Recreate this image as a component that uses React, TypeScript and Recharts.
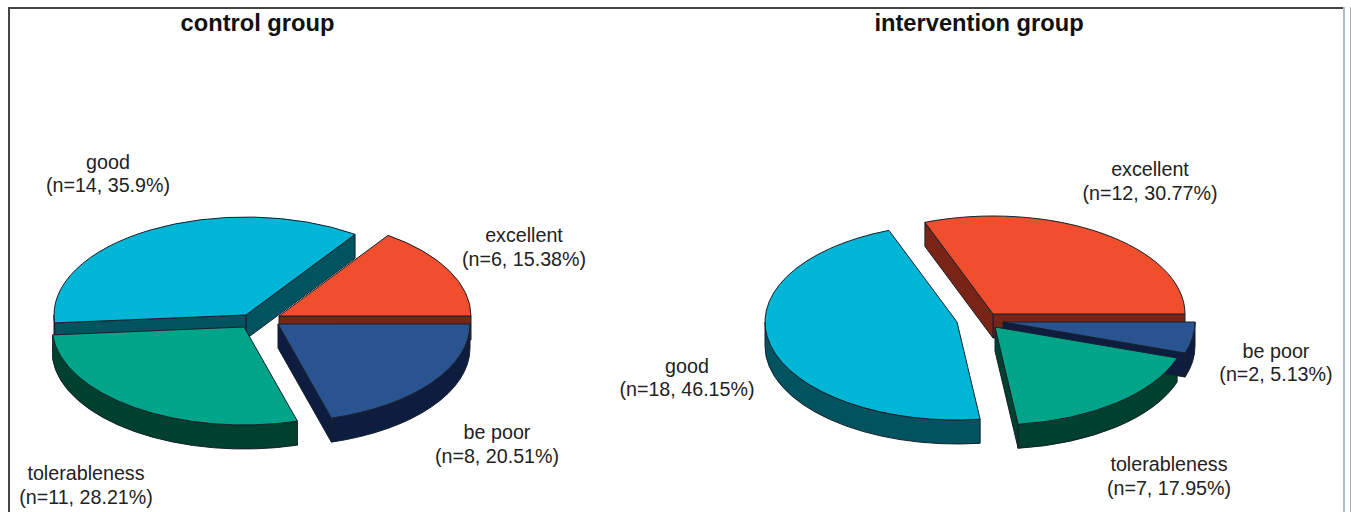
import { Pie, PieChart } from "recharts";

const CATEGORIES = ["excellent", "good", "tolerableness", "be poor"];
const CONTROL_COUNTS = [6, 14, 11, 8];
const INTERVENTION_COUNTS = [12, 18, 7, 2];
const CONTROL_PERCENTS = ["15.38%", "35.9%", "28.21%", "20.51%"];
const INTERVENTION_PERCENTS = ["30.77%", "46.15%", "17.95%", "5.13%"];

const TOP_COLORS = ["#f04e2d", "#00b5d5", "#00a488", "#2a5490"];
const WALL_COLORS = ["#7a2417", "#00535f", "#00402f", "#0e1c40"];
const EDGE = "#17202a";
const FONT = "'Liberation Sans', Arial, sans-serif";

const RADIUS_X = 192;
const RADIUS_Y = 98;
const DEPTH = 24;

// where each slice's apex sits once it has been pulled out of the pie
const CONTROL_APEX = [
  [279, 316],
  [246, 315],
  [244, 327],
  [278, 324],
];
const INTERVENTION_APEX = [
  [993, 314],
  [957, 322],
  [995, 327],
  [1003, 322],
];

// label centre x, then y of the first and second line
const CONTROL_LABELS = [
  [524, 242, 266],
  [108, 169, 192],
  [86, 480, 504],
  [497, 439, 463],
];
const INTERVENTION_LABELS = [
  [1150, 176, 200],
  [687, 373, 396],
  [1169, 471, 495],
  [1276, 358, 381],
];

const toRows = (counts: number[]) =>
  CATEGORIES.map((name, i) => ({ name, value: counts[i], index: i }));

const rad = (deg: number) => (deg * Math.PI) / 180;

// Geometry of one flattened slice. Walls and tops go in separate passes so
// every top face ends up above all the walls of its group.
function sliceShape(apexes: number[][], part: "walls" | "top") {
  return function Slice(props: any) {
    const { startAngle, endAngle, payload } = props;
    const i = payload?.index ?? props.index ?? 0;
    const [ax, ay] = apexes[i];
    const at = (deg: number, drop = 0): [number, number] => [
      ax + RADIUS_X * Math.cos(rad(deg)),
      ay - RADIUS_Y * Math.sin(rad(deg)) + drop,
    ];
    const arc = (to: [number, number], sweep: 0 | 1, large: 0 | 1) =>
      `A${RADIUS_X} ${RADIUS_Y} 0 ${large} ${sweep} ${to[0]} ${to[1]}`;

    const [sx, sy] = at(startAngle);
    const [ex, ey] = at(endAngle);

    if (part === "top") {
      const large = endAngle - startAngle > 180 ? 1 : 0;
      return (
        <path
          d={`M${ax} ${ay}L${sx} ${sy}${arc([ex, ey], 0, large)}Z`}
          fill={TOP_COLORS[i]}
          stroke={EDGE}
          strokeLinejoin="round"
        />
      );
    }

    const radial = (x: number, y: number) =>
      `M${ax} ${ay}L${x} ${y}L${x} ${y + DEPTH}L${ax} ${ay + DEPTH}Z`;

    // a cut face shows only when it turns towards the viewer
    const showStart = Math.cos(rad(startAngle)) > 0;
    const showEnd = Math.cos(rad(endAngle)) < 0;

    // only the part of the rim facing the viewer is visible
    const from = Math.max(startAngle, 180);
    const to = Math.min(endAngle, 360);
    let rim = "";
    if (to > from) {
      const a = at(from);
      const b = at(to);
      const c = at(to, DEPTH);
      const d = at(from, DEPTH);
      rim = `M${a[0]} ${a[1]}${arc(b, 0, 0)}L${c[0]} ${c[1]}${arc(d, 1, 0)}Z`;
    }

    return (
      <g stroke={EDGE} strokeLinejoin="round" fill={WALL_COLORS[i]}>
        {showStart && <path d={radial(sx, sy)} />}
        {showEnd && <path d={radial(ex, ey)} />}
        {rim && <path d={rim} />}
      </g>
    );
  };
}

function sliceLabel(counts: number[], percents: string[], spots: number[][]) {
  return function SliceLabel(props: any) {
    const i = props.index;
    const [x, y1, y2] = spots[i];
    return (
      <g fontFamily={FONT} fontSize={19.7} fill="#222" textAnchor="middle">
        <text x={x} y={y1}>
          {CATEGORIES[i]}
        </text>
        <text x={x} y={y2}>
          {`(n=${counts[i]}, ${percents[i]})`}
        </text>
      </g>
    );
  };
}

function pieProps(counts: number[], cx: number) {
  return {
    data: toRows(counts),
    dataKey: "value",
    cx,
    cy: 320,
    outerRadius: RADIUS_X,
    startAngle: 0,
    endAngle: 360,
    stroke: "none",
    isAnimationActive: false,
  };
}

export default function App() {
  return (
    <div
      style={{
        position: "absolute",
        left: 0,
        top: 0,
        width: 1351,
        height: 512,
        background: "#fff",
        overflow: "hidden",
      }}
    >
      <div style={{ position: "absolute", left: 8, top: 7, width: 1335, height: 2, background: "#444" }} />
      <div style={{ position: "absolute", left: 8, top: 7, width: 2, height: 505, background: "#444" }} />
      <div style={{ position: "absolute", left: 1343, top: 7, width: 2, height: 505, background: "#a9bfcb" }} />
      <div style={{ position: "absolute", left: 1350, top: 7, width: 1, height: 505, background: "#aaa" }} />
      <PieChart
        width={1351}
        height={512}
        margin={{ top: 0, right: 0, bottom: 0, left: 0 }}
        style={{ position: "absolute", left: 0, top: 0 }}
      >
        <text x={257.5} y={31} textAnchor="middle" fontFamily={FONT} fontWeight="bold" fontSize={23.7} fill="#111">
          control group
        </text>
        <text x={979} y={31} textAnchor="middle" fontFamily={FONT} fontWeight="bold" fontSize={23.7} fill="#111">
          intervention group
        </text>
        <Pie {...pieProps(CONTROL_COUNTS, 262)} shape={sliceShape(CONTROL_APEX, "walls")} />
        <Pie
          {...pieProps(CONTROL_COUNTS, 262)}
          shape={sliceShape(CONTROL_APEX, "top")}
          label={sliceLabel(CONTROL_COUNTS, CONTROL_PERCENTS, CONTROL_LABELS)}
          labelLine={false}
        />
        <Pie {...pieProps(INTERVENTION_COUNTS, 980)} shape={sliceShape(INTERVENTION_APEX, "walls")} />
        <Pie
          {...pieProps(INTERVENTION_COUNTS, 980)}
          shape={sliceShape(INTERVENTION_APEX, "top")}
          label={sliceLabel(INTERVENTION_COUNTS, INTERVENTION_PERCENTS, INTERVENTION_LABELS)}
          labelLine={false}
        />
      </PieChart>
    </div>
  );
}
